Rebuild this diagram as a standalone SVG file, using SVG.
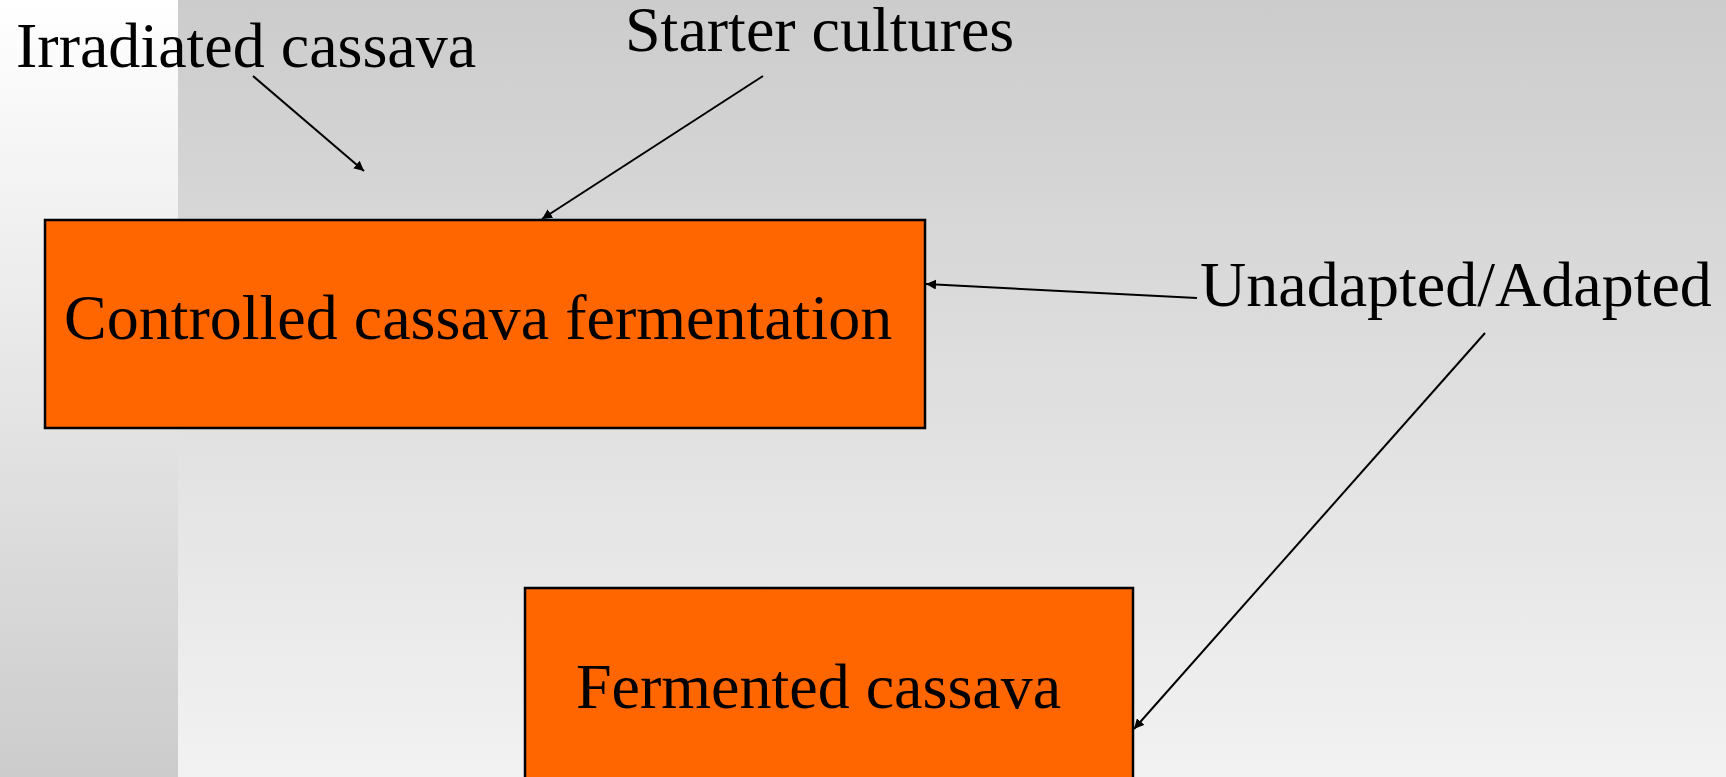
<svg xmlns="http://www.w3.org/2000/svg" width="1726" height="777" viewBox="0 0 1726 777">
  <defs>
    <linearGradient id="bgMain" x1="0" y1="0" x2="0" y2="1">
      <stop offset="0" stop-color="#cccccc"/>
      <stop offset="1" stop-color="#f2f2f2"/>
    </linearGradient>
    <linearGradient id="bgLeft" x1="0" y1="0" x2="0" y2="1">
      <stop offset="0" stop-color="#ffffff"/>
      <stop offset="1" stop-color="#cccccc"/>
    </linearGradient>
    <marker id="arr" viewBox="0 0 10 10" refX="10" refY="5" markerWidth="5" markerHeight="5" orient="auto" markerUnits="strokeWidth">
      <path d="M0,0 L10,5 L0,10 z" fill="#000"/>
    </marker>
    <style>
      .box { fill: #ff6600; stroke: #000; stroke-width: 2.5; }
      .lbl { font-family: "Liberation Serif", "Times New Roman", serif; font-size: 64px; fill: #000; }
      .conn { stroke: #000; stroke-width: 2; fill: none; marker-end: url(#arr); }
    </style>
  </defs>

  <rect x="0" y="0" width="1726" height="777" fill="url(#bgMain)"/>
  <rect x="0" y="0" width="178" height="777" fill="url(#bgLeft)"/>

  <g id="node-controlled">
    <rect class="box" x="45" y="220" width="880" height="208"/>
    <text class="lbl" x="64" y="339">Controlled cassava fermentation</text>
  </g>

  <g id="node-fermented">
    <rect class="box" x="525" y="588" width="608" height="200"/>
    <text class="lbl" x="576" y="708">Fermented cassava</text>
  </g>

  <g id="label-irradiated">
    <text class="lbl" x="16" y="67">Irradiated cassava</text>
  </g>
  <g id="label-starter">
    <text class="lbl" x="625" y="51">Starter cultures</text>
  </g>
  <g id="label-unadapted">
    <text class="lbl" x="1200" y="306">Unadapted/Adapted</text>
  </g>

  <g id="connectors">
    <line class="conn" x1="253" y1="76" x2="364" y2="171"/>
    <line class="conn" x1="763" y1="76" x2="542" y2="219"/>
    <line class="conn" x1="1197" y1="298" x2="926" y2="284"/>
    <line class="conn" x1="1485" y1="333" x2="1134" y2="729"/>
  </g>
</svg>
